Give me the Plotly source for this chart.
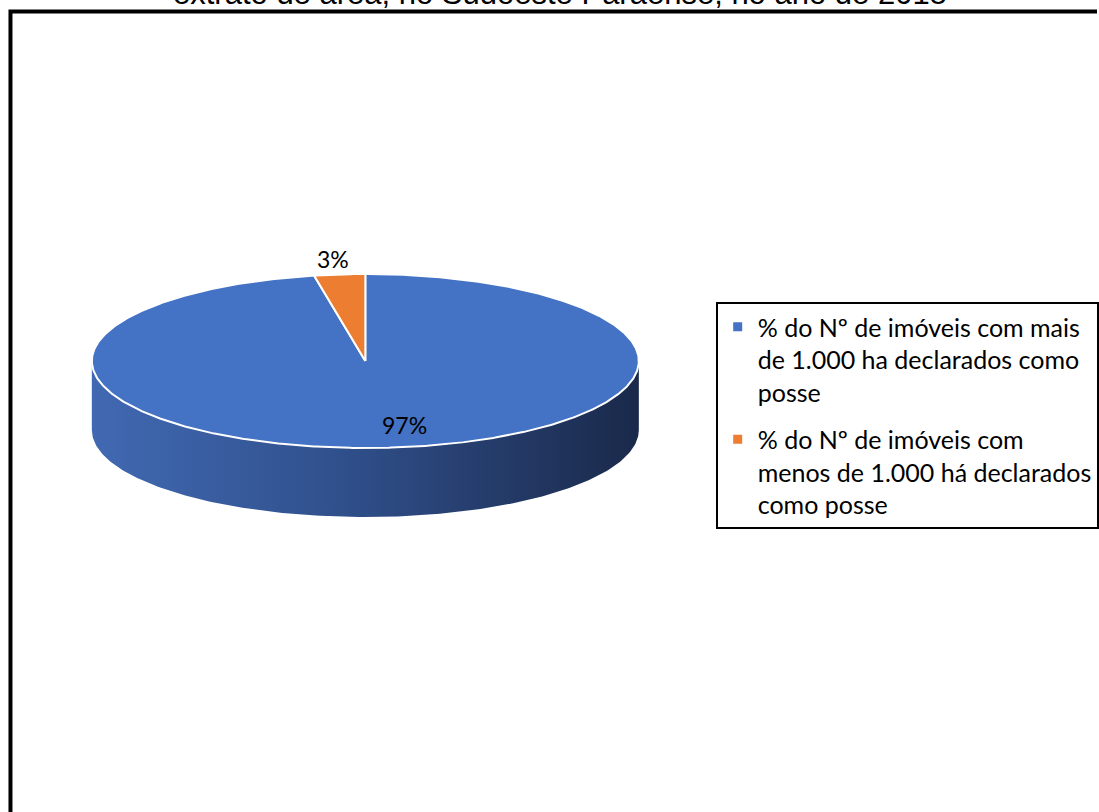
import numpy as np
import plotly.graph_objects as go

# ---- data ----
categories = [
    "% do Nº de imóveis com mais<br>de 1.000 ha declarados como<br>posse",
    "% do Nº de imóveis com<br>menos de 1.000 há declarados<br>como posse",
]
values = [97, 3]
labels = ["97%", "3%"]
colors = ["#4472C4", "#ED7D31"]
title_text = "extrato de área, no Sudoeste Paraense, no ano de 2018"

# ---- geometry (data space == page pixels) ----
W, H = 1099, 812
cx, cy, rx, ry, depth = 366, 361, 274, 87, 69

def pt(theta, dy=0.0):
    return cx + rx * np.sin(theta), cy - ry * np.cos(theta) + dy

fracs = np.array(values, dtype=float) / sum(values)
starts = np.concatenate([[0], np.cumsum(fracs)[:-1]]) * 2 * np.pi
ends = np.cumsum(fracs) * 2 * np.pi

fig = go.Figure()

# side (front half) of the 3D pie
for s, e, c in zip(starts, ends, colors):
    a0, a1 = max(s, np.pi / 2), min(e, 3 * np.pi / 2)
    if a1 <= a0:
        continue
    th = np.linspace(a0, a1, 200)
    xt, yt = pt(th)
    xb, yb = pt(th[::-1], depth)
    fig.add_trace(go.Scatter(
        x=np.concatenate([xt, xb, xt[:1]]), y=np.concatenate([yt, yb, yt[:1]]),
        mode="lines", fill="toself", line=dict(width=0, color="rgba(0,0,0,0)"),
        fillgradient=dict(type="horizontal",
                          colorscale=[[0, "#4169B2"], [0.45, "#30508C"], [1, "#1A294A"]]),
        hoverinfo="skip", showlegend=False))

# top face slices
for s, e, c in zip(starts, ends, colors):
    th = np.linspace(s, e, max(int((e - s) * 120), 8))
    xs, ys = pt(th)
    fig.add_trace(go.Scatter(
        x=np.concatenate([[cx], xs, [cx]]), y=np.concatenate([[cy], ys, [cy]]),
        mode="lines", fill="toself", fillcolor=c,
        line=dict(color="white", width=2), hoverinfo="skip", showlegend=False))

# legend entries
for name, c in zip(categories, colors):
    fig.add_trace(go.Scatter(
        x=[None], y=[None], mode="markers", name=name,
        marker=dict(symbol="square", size=9, color=c), legendgroup=name))

# data labels
mids = (starts + ends) / 2
label_cfg = [(0.74, 13), (1.18, -2)]
annotations = []
for m, lab, (f, xs_) in zip(mids, labels, label_cfg):
    lx = cx + rx * np.sin(m) * (f if f > 1 else 1)
    ly = cy - ry * np.cos(m) * f
    annotations.append(dict(x=lx, y=ly, text=lab, showarrow=False, xshift=xs_,
                            font=dict(family="Lato", size=23, color="black")))

annotations.append(dict(x=561, y=13, yanchor="bottom", text=title_text, showarrow=False,
                        font=dict(family="Liberation Sans, Arial", size=31, color="black")))

fig.update_layout(
    width=W, height=H, autosize=False,
    margin=dict(l=0, r=0, t=0, b=0, pad=0),
    paper_bgcolor="white", plot_bgcolor="white",
    xaxis=dict(range=[0, W], visible=False, fixedrange=True),
    yaxis=dict(range=[H, 0], visible=False, fixedrange=True),
    showlegend=True,
    legend=dict(x=717 / W, y=1 - 302 / H, xanchor="left", yanchor="top",
                bordercolor="black", borderwidth=2, bgcolor="white",
                font=dict(family="Lato", size=25, color="black"),
                traceorder="grouped", tracegroupgap=12, valign="top",
                itemclick=False, itemdoubleclick=False),
    annotations=annotations,
    shapes=[dict(type="rect", xref="x", yref="y", x0=10.5, y0=11.5, x1=W + 40, y1=H + 40,
                 line=dict(color="black", width=4), fillcolor="rgba(0,0,0,0)", layer="above")],
)

fig.write_html("out.html", config={"displayModeBar": False},
               post_script="document.body.style.margin='0px';")
